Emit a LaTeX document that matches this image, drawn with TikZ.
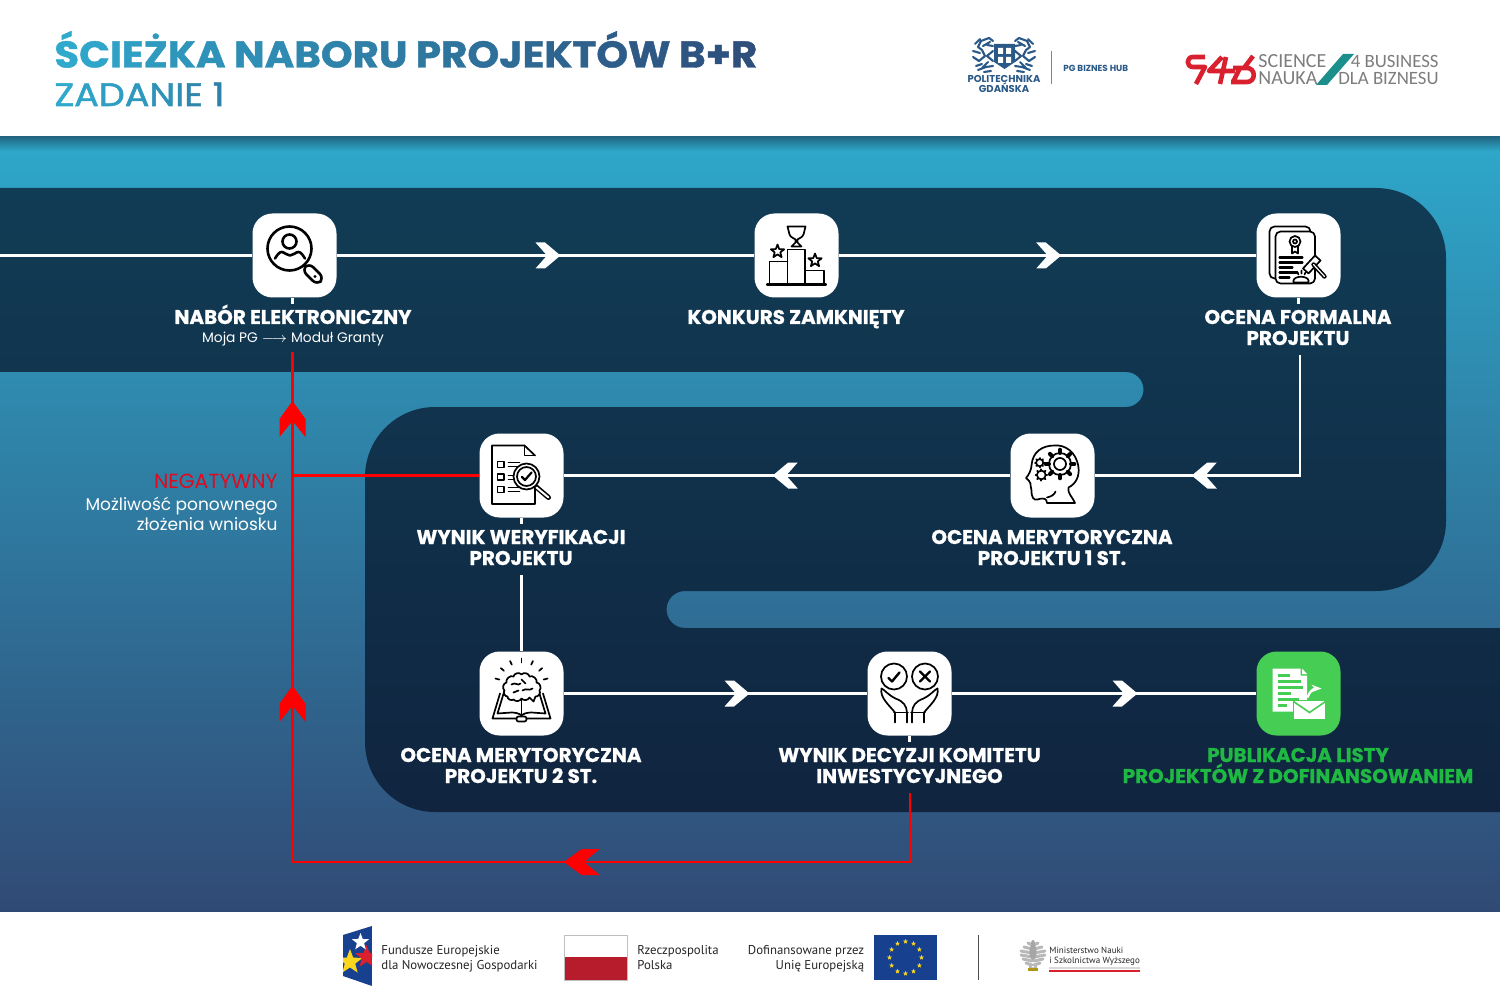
\documentclass[tikz,border=0pt]{standalone}
\usepackage{fontspec}
\usepackage{xcolor}
\setmainfont{Poppins}
\newfontfamily\titlefont[FakeStretch=1.085,BoldFeatures={FakeBold=1.2}]{Poppins}
\newfontfamily\subfont[FakeStretch=1.13,FakeBold=1.6]{Poppins}
\newfontfamily\stepfont[BoldFeatures={FakeBold=.8}]{Poppins}
\newfontfamily\footfont{PT Sans}
\newfontfamily\logofont{Carlito}
\definecolor{bandtop}{RGB}{46,168,202}
\definecolor{bandbot}{RGB}{48,74,117}
\definecolor{bandedge}{RGB}{34,104,132}
\definecolor{darktop}{RGB}{17,60,85}
\definecolor{darkbot}{RGB}{16,36,63}
\definecolor{titlestart}{RGB}{47,169,204}
\definecolor{titleend}{RGB}{46,74,120}
\definecolor{flowred}{RGB}{255,0,0}
\definecolor{negred}{RGB}{224,9,30}
\definecolor{pubgreen}{RGB}{31,184,67}
\definecolor{boxgreen}{RGB}{70,205,84}
\definecolor{pgnavy}{RGB}{42,88,135}
\definecolor{sredc}{RGB}{216,32,47}
\definecolor{steal}{RGB}{28,143,140}
\definecolor{sgray}{RGB}{125,125,125}
\definecolor{flagred}{RGB}{183,28,44}
\definecolor{eublue}{RGB}{23,64,142}
\definecolor{euyellow}{RGB}{250,215,30}
\usetikzlibrary{arrows.meta,decorations.markings}
% Title letters, each one a step further along the colour mix
\newcount\gradn
\def\gradnext#1{\ifx#1\relax\else{\color{titlestart!\the\numexpr100-\gradn*\gradstep\relax!titleend}#1}\global\advance\gradn by 1\relax\expandafter\gradnext\fi}
\newcommand{\gradword}[1]{\gradnext#1\relax}
\newcommand{\starshape}[1]{(-90:#1) -- (-54:#1*.42) -- (-18:#1) -- (18:#1*.42) -- (54:#1) -- (90:#1*.42) -- (126:#1) -- (162:#1*.42) -- (198:#1) -- (234:#1*.42) -- cycle}
\newcommand{\gearshape}[4]{%
  \begin{scope}[shift={(#1,#2)}]
    \draw[iconline] (0,0) circle[radius=#3];
    \foreach \a in {0,45,...,315} \draw[iconline,line width=#4] (\a:#3) -- (\a:#3*1.3);
  \end{scope}}
\tikzset{
  iconbox/.style={fill=white,rounded corners=10pt,minimum size=42pt,inner sep=0pt},
  iconline/.style={draw=black,line width=.85pt,line cap=round,line join=round},
  flowline/.style={draw=white,line width=1.4pt},
  redline/.style={draw=flowred,line width=1.4pt},
  flowchev/.style={postaction={decorate,decoration={markings,mark=at position #1 with {
    \fill[white] (-12.5,-13) -- (-3,-13) -- (12.5,0) -- (-3,13) -- (-12.5,13) -- (-1,0) -- cycle;}}}},
  redchev/.style={postaction={decorate,decoration={markings,mark=at position #1 with {
    \fill[flowred] (-18,-13) -- (0,-13) -- (18,0) -- (0,13) -- (-18,13) -- (-2,0) -- cycle;}}}},
  steplabel/.style={anchor=base,inner sep=0pt,align=center,text=white,font=\stepfont\fontsize{9.95}{10.5}\selectfont\bfseries},
  greenlabel/.style={steplabel,text=pubgreen},
  sidelabel/.style={anchor=base east,inner sep=0pt,align=right,font=\fontsize{8.5}{9.8}\selectfont},
  footlabel/.style={anchor=base west,inner sep=0pt,text=black!85,font=\footfont\fontsize{6.4}{7.4}\selectfont},
  slogan/.style={anchor=base west,inner sep=0pt,text=sgray,font=\logofont\fontsize{10}{10}\selectfont},
  sloganright/.style={slogan,anchor=base east,font=\logofont\fontsize{9.4}{10}\selectfont},
  pics/iconsearch/.style={code={
    \draw[iconline,line width=1.3pt] (-5,-7) circle[radius=22];
    \draw[iconline,line width=1.3pt] (-5,-14) circle[radius=7];
    \draw[iconline,line width=1.3pt] (-19.5,3) .. controls (-17,-1) and (-15,-3.5) .. (-13,-3.5) .. controls (-10,-3.5) and (-8,0) .. (-4.5,0) .. controls (-1,0) and (1,-3.5) .. (4,-3.5) .. controls (6,-3.5) and (8,-1) .. (10.5,3);
    \draw[iconline,line width=1.3pt,rounded corners=3pt] (14.5,7.5) -- (29.5,22.5) -- (22.5,29.5) -- (7.5,14.5) -- cycle;
    \fill (20.5,21) circle[radius=1.6];
  }},
  pics/iconpodium/.style={code={
    \draw[iconline,line width=1.1pt] (-29.5,29) -- (29.5,29);
    \draw[iconline] (-27,29) -- (-27,6) -- (-9,6);
    \draw[iconline] (-9,29) -- (-9,-6) -- (8.5,-6) -- (8.5,29);
    \draw[iconline] (8.5,15) -- (27.5,15) -- (27.5,29);
    \draw[iconline] (-9,-29) -- (9,-29) -- (7,-21) .. controls (6,-18) and (2,-17) .. (1,-16) -- (1,-13) -- (5,-9) -- (-5,-9) -- (-1,-13) -- (-1,-16) .. controls (-2,-17) and (-6,-18) .. (-7,-21) -- cycle;
    \draw[iconline,shift={(-19,-4)}] \starshape{7};
    \draw[iconline,shift={(18.5,5)}] \starshape{7};
  }},
  pics/iconcert/.style={code={
    \draw[iconline,rounded corners=2.5pt] (-29,-29) rectangle (12,23);
    \draw[iconline,fill=white,rounded corners=2.5pt] (-23,-24) rectangle (16.5,28);
    \draw[iconline] (-3.5,-14) circle[radius=5.5];
    \draw[iconline] (-3.5,-14) circle[radius=2];
    \draw[iconline] (-6.5,-9) -- (-6.5,-2) -- (-3.5,-4) -- (-.5,-2) -- (-.5,-9);
    \foreach \y/\e in {2/4,7/4,12/-6,17/-1,22/-9} \draw[iconline,line width=1.1pt] (-19,\y) -- (\e,\y);
    \draw[iconline,fill=white] (4.5,13) -- (16.5,0) -- (22,5) -- (10,18) -- cycle;
    \draw[iconline,fill=white,line width=2.2pt] (15,9) -- (26,21);
    \draw[draw=white,line width=.6pt,line cap=round] (15,9) -- (26,21);
    \draw[iconline,fill=white] (-5,27) -- (-5,25) .. controls (-4,20) and (9,20) .. (10,25) -- (10,27) -- cycle;
    \draw[iconline] (-1,17) -- (0,19) (3,15) -- (3,18) (7,17) -- (6,19);
  }},
  pics/icondoccheck/.style={code={
    \draw[iconline] (13.5,-20) -- (3,-30) -- (-29.5,-30) -- (-29.5,28.5) -- (13.5,28.5) -- (13.5,10);
    \draw[iconline] (3,-30) -- (3,-20) -- (13.5,-20);
    \draw[iconline] (-24,-14) rectangle (-17.5,-8);
    \draw[iconline] (-24,-1.5) rectangle (-17.5,4.5);
    \draw[iconline] (-24,11) rectangle (-17.5,17);
    \foreach \y in {-13,-9,0,4,12,16} \draw[iconline] (-13,\y) -- (-2,\y);
    \draw[iconline,line width=2.5pt] (13,10) -- (27,22);
    \draw[draw=white,line width=1pt,line cap=round] (15,12) -- (27,22);
    \draw[iconline,fill=white] (5,1) circle[radius=13];
    \draw[iconline] (5,1) circle[radius=9.5];
    \draw[iconline,line width=1.1pt] (.5,1.5) -- (3.5,4.5) -- (10,-3);
  }},
  pics/iconhead/.style={code={
    \draw[iconline] (22.5,27.5) .. controls (19,20) and (15,18) .. (16,12) .. controls (24,8) and (27,0) .. (26,-8) .. controls (24,-24) and (12,-31) .. (2,-30) .. controls (-10,-30) and (-20,-24) .. (-21,-10) .. controls (-21,-6) and (-24,0) .. (-26.5,2.5) .. controls (-25,5) and (-22,5) .. (-22,8) .. controls (-22,12) and (-21,13) .. (-21,15) .. controls (-21,22) and (-19,25) .. (-15,24) .. controls (-8,22) and (-6,23) .. (-5.5,27.5) -- cycle;
    \draw[iconline] (-5.5,22) .. controls (-1,21) and (2,19) .. (3,16);
    \gearshape{7.5}{-11.5}{11}{2pt}
    \draw[iconline] (7.5,-11.5) circle[radius=6];
    \gearshape{-12.8}{-12.8}{3.6}{1pt}
    \gearshape{-11.2}{-.5}{4.4}{1pt}
  }},
  pics/iconbrain/.style={code={
    \foreach \a in {-165,-140,-115,-90,-65,-40,-15} \draw[iconline] (0,-8) ++(\a:23) -- ++(\a:4);
    \draw[iconline] (-21.5,0) -- (-29,25) -- (-5,25) (21.5,0) -- (29,25) -- (5,25);
    \draw[iconline] (-17,-3) -- (-24,20) -- (-10,19) .. controls (-6,19) and (-2,20) .. (0,22) .. controls (2,20) and (6,19) .. (10,19) -- (24,20) -- (17,-3);
    \draw[iconline] (0,4) -- (0,22);
    \draw[iconline,rounded corners=1pt] (-5,23) rectangle (5,28);
    \draw[iconline,fill=white] (-17,-3) to[bend left=70] (-15,-11) to[bend left=70] (-8,-17) to[bend left=70] (0,-19) to[bend left=70] (8,-17) to[bend left=70] (15,-11) to[bend left=70] (18,-3) to[bend left=70] (14,3) -- (12,8) -- (8,4) to[bend left=60] (0,5) to[bend left=60] (-8,6) to[bend left=70] (-14,3) to[bend left=70] cycle;
    \draw[iconline] (-10,-9) .. controls (-6,-12) and (-4,-7) .. (-1,-10) (1,-3) .. controls (5,-6) and (7,-2) .. (11,-5) (-8,-1) -- (-3,-3) (0,-14) -- (4,-10);
  }},
  pics/iconhands/.style={code={
    \draw[iconline] (-15.5,-17) circle[radius=13];
    \draw[iconline] (15.5,-17) circle[radius=13];
    \draw[iconline,line width=1.2pt] (-21,-15.5) -- (-17.5,-12) -- (-10,-21);
    \draw[iconline,line width=1.2pt] (10.5,-22) -- (20.5,-12) (20.5,-22) -- (10.5,-12);
    \foreach \s in {1,-1} {
      \begin{scope}[xscale=\s]
        \draw[iconline] (-28,-5) .. controls (-30,4) and (-20,12) .. (-14.5,19) -- (-14.5,29);
        \draw[iconline] (-28,-5) .. controls (-24,-3) and (-22,1) .. (-14,5) .. controls (-6,8) and (-3,12) .. (-2.5,19) -- (-2.5,29);
        \draw[iconline] (-15.5,19) -- (-1.5,19);
      \end{scope}}
  }},
  pics/iconpublish/.style={code={
    \fill[white] (-26,-25) -- (2,-25) -- (2,-18) -- (8.5,-18) -- (8.5,18) -- (-26,18) -- cycle;
    \fill[white] (3.5,-25) -- (8.5,-19.5) -- (3.5,-19.5) -- cycle;
    \foreach \y/\a/\b in {-18/-21/-9,-12/-21/2,-6/-21/4,0/-21/-8,6/-21/0,12/-21/-12} \draw[boxgreen,line width=1.1pt] (\a,\y) -- (\b,\y);
    \draw[white,line width=1.1pt,-{Stealth[length=5pt]}] (9,4) .. controls (11,-2) and (15,-5) .. (23,-5);
    \draw[boxgreen,fill=white,line width=.8pt] (-5,7) rectangle (27,26);
    \draw[boxgreen,line width=.8pt] (-5,8) -- (11,19) -- (27,8);
  }},
  pics/iconfund/.style={code={
    \clip (343,935) -- (372,926) -- (372,986) -- (343,976) -- cycle;
    \fill[eublue] (343,925) rectangle (372,986);
    \fill[euyellow,shift={(350,962)}] \starshape{13};
    \fill[sredc,shift={(366.5,957)}] \starshape{12};
    \fill[white,shift={(360.5,942)}] \starshape{9};
  }},
  pics/griffin/.style={code={
    \draw[pgnavy,line width=1.05pt,line cap=round,line join=round]
      (-11,-18) -- (-15,-21) -- (-23,-18) -- (-26,-12) -- (-22,-9) -- (-19,-3) -- (-25,2) -- (-31,-2)
      (-31,-8) -- (-24,-6) (-11,-13) -- (-17,-14) (-11,-8) -- (-17,-3) -- (-11,2)
      (-11,7) -- (-18,8) -- (-26,11) (-22,5) -- (-28,7) (-29,-15) -- (-24,-20)
      (-14,-17) -- (-21,-13) (-13,12) -- (-20,13) (-16,3) -- (-22,9);
  }},
  pics/eaglewing/.style={code={
    \foreach \y/\w in {-12/5,-8/9,-4/12,0/12,4/10,8/7,12/3} \draw[black!28,line width=1.5pt,line cap=round] (1,\y) -- (\w,\y-2);
  }}
}
\begin{document}
\begin{tikzpicture}[x=0.5pt,y=-0.5pt]
  \useasboundingbox (0,0) rectangle (1500,1000);
  % Page background
  \fill[white] (0,0) rectangle (1500,1000);
  \shade[top color=bandtop,bottom color=bandbot] (0,137) rectangle (1500,911);
  \shade[top color=bandedge,bottom color=bandtop] (0,137) rectangle (1500,151);
  % Dark road through the steps
  \shade[top color=darktop,bottom color=darkbot]
    (0,188) -- (1376,188) arc[start angle=-90,end angle=0,radius=70]
    -- (1446,521) arc[start angle=0,end angle=90,radius=70]
    -- (685,591) arc[start angle=-90,end angle=-270,radius=18.5]
    -- (1500,628) -- (1500,812) -- (435,812) arc[start angle=90,end angle=180,radius=70]
    -- (365,477) arc[start angle=180,end angle=270,radius=70]
    -- (1126,407) arc[start angle=90,end angle=-90,radius=17.5]
    -- (0,372) -- cycle;
  % Header
  \node[anchor=base west,inner sep=0pt,font=\titlefont\fontsize{18.6}{19}\selectfont\bfseries] (title) at (54,67.5)
    {\def\gradstep{4}\gradn=0 \gradword{ŚCIEŻKA} \gradword{NABORU} \gradword{PROJEKTÓW} \gradword{B+R}};
  \node[anchor=base west,inner sep=0pt,font=\subfont\fontsize{16.2}{17}\selectfont] (subtitle) at (54,106)
    {\def\gradstep{6}\gradn=0 \gradword{ZADANIE} \gradword{1}};
  % PG logo
  \pic at (1004,59) {griffin};
  \pic[xscale=-1] at (1004,59) {griffin};
  \fill[pgnavy] (994,44) -- (1015,44) -- (1015,62) -- (1004.5,69) -- (994,62) -- cycle;
  \fill[white] (998,48) rectangle (1003,54) (1006,48) rectangle (1011,54) (998,57) rectangle (1003,63) (1006,57) rectangle (1011,63);
  \node[inner sep=0pt,align=center,text=pgnavy,font=\fontsize{5}{5.1}\selectfont\bfseries] (pgname) at (1004,84) {POLITECHNIKA\\GDAŃSKA};
  \draw[pgnavy!70,line width=.6pt] (1051.5,51) -- (1051.5,84);
  \node[anchor=west,inner sep=0pt,text=pgnavy,font=\fontsize{4.4}{5}\selectfont\bfseries] (pghub) at (1063,68) {PG BIZNES HUB};
  % S4B logo
  \draw[sredc,line width=2.3pt,line join=round]
    (1205,57) -- (1193,57) .. controls (1186,57) and (1186,67) .. (1193,67) -- (1205,67) -- (1196,84);
  \draw[sredc,line width=2.3pt,line join=round] (1222,57) -- (1209,71) -- (1235,71) (1226,57) -- (1220,84);
  \draw[sredc,line width=2.3pt,line join=round]
    (1253,56) -- (1244,68) (1233,68) -- (1247,68) .. controls (1256,68) and (1256,82) .. (1247,82) -- (1231,82) (1240,68) -- (1233,82);
  \fill[steal] (1343,54) -- (1354,54) -- (1327,85) -- (1316,85) -- cycle;
  \node[slogan] (sci) at (1258,68) {SCIENCE};
  \node[slogan] (nau) at (1258,85) {NAUKA};
  \node[sloganright] (bus) at (1439,68) {4 BUSINESS};
  \node[sloganright] (dla) at (1439,85) {DLA BIZNESU};
  % Steps
  \node[iconbox] (nabor) at (294.5,255.5) {};
  \node[iconbox] (konkurs) at (796.5,255.5) {};
  \node[iconbox] (formal) at (1298.5,255.5) {};
  \node[iconbox] (merytA) at (1052.5,475.5) {};
  \node[iconbox] (weryf) at (521.5,475.5) {};
  \node[iconbox] (merytB) at (521.5,693.5) {};
  \node[iconbox] (decyzja) at (909.5,693.5) {};
  \node[iconbox,fill=boxgreen] (publik) at (1298.5,693.5) {};
  \pic at (nabor) {iconsearch};
  \pic at (konkurs) {iconpodium};
  \pic at (formal) {iconcert};
  \pic at (merytA) {iconhead};
  \pic at (weryf) {icondoccheck};
  \pic at (merytB) {iconbrain};
  \pic at (decyzja) {iconhands};
  \pic at (publik) {iconpublish};
  % Labels
  \node[steplabel] (labNabor) at (293,324) {NABÓR ELEKTRONICZNY};
  \node[steplabel,font=\fontsize{6.9}{8}\selectfont] (labModul) at (293,343) {Moja PG $\longrightarrow$ Moduł Granty};
  \node[steplabel] (labKonkurs) at (796,324) {KONKURS ZAMKNIĘTY};
  \node[steplabel] (labFormal) at (1298,345) {OCENA FORMALNA\\PROJEKTU};
  \node[steplabel] (labMerytA) at (1052,565) {OCENA MERYTORYCZNA\\PROJEKTU 1 ST.};
  \node[steplabel] (labWeryf) at (521,565) {WYNIK WERYFIKACJI\\PROJEKTU};
  \node[steplabel] (labMerytB) at (521,783) {OCENA MERYTORYCZNA\\PROJEKTU 2 ST.};
  \node[steplabel] (labDecyzja) at (909.5,783) {WYNIK DECYZJI KOMITETU\\INWESTYCYJNEGO};
  \node[greenlabel] (labPublik) at (1298,783) {PUBLIKACJA LISTY\\PROJEKTÓW Z DOFINANSOWANIEM};
  \node[sidelabel,text=negred,font=\fontsize{10.2}{10.2}\selectfont] (labNeg) at (278,488) {NEGATYWNY};
  \node[sidelabel,text=white] (labRetry) at (278,530) {Możliwość ponownego\\złożenia wniosku};
  % Free ends of the connectors
  \coordinate (flowStart) at (0,255.5);
  \coordinate (formalEnd) at (1300,355);
  \coordinate (weryfEnd) at (521.5,575);
  \coordinate (decEnd) at (910,793);
  \coordinate (redCorner) at (292.5,862);
  \coordinate (negTop) at (292.5,352);
  % Connectors
  \draw[flowline] (flowStart) -- (nabor.west);
  \draw[flowline,flowchev=.506] (nabor.east) -- (konkurs.west);
  \draw[flowline,flowchev=.503] (konkurs.east) -- (formal.west);
  \draw[flowline,flowchev=.664] (formalEnd) |- (merytA.east);
  \draw[flowline,flowchev=.504] (merytA.west) -- (weryf.east);
  \draw[flowline] (weryfEnd) -- (merytB.north);
  \draw[flowline,flowchev=.571] (merytB.east) -- (decyzja.west);
  \draw[flowline,flowchev=.569] (decyzja.east) -- (publik.west);
  % Stubs under the boxes
  \draw[flowline] (nabor.south -| negTop) -- ++(0,6);
  \draw[flowline] (formal.south) -- ++(0,6);
  \draw[flowline] (weryf.south) -- ++(0,6);
  \draw[flowline] (decyzja.south) -- ++(0,6);
  % Negative paths
  \draw[redline,redchev=.332,redchev=.706,redchev=.944] (decEnd) |- (redCorner) -- (negTop);
  \draw[redline] (weryf.west) -- (weryf.west -| negTop);
  % Footer
  \pic at (0,0) {iconfund};
  \node[footlabel,align=left] (fundA) at (381,969) {Fundusze Europejskie\\dla Nowoczesnej Gospodarki};
  \fill[white] (564,935) rectangle (627,957);
  \fill[flagred] (564,957) rectangle (627,980);
  \draw[black!25,line width=.4pt] (564,935) rectangle (627,980);
  \node[footlabel,align=left] (rp) at (637,969) {Rzeczpospolita\\Polska};
  \node[footlabel,anchor=base east,align=right] (dof) at (864.5,969) {Dofinansowane przez\\Unię Europejską};
  \fill[eublue] (874,935) rectangle (937,980);
  \foreach \a in {0,30,...,330} \fill[euyellow,shift={(905.5,957.5)},shift={(\a:16)}] \starshape{2.6};
  \draw[black!70,line width=.6pt] (978.5,935) -- (978.5,980);
  % Ministry eagle
  \pic at (1033,957) {eaglewing};
  \pic[xscale=-1] at (1033,957) {eaglewing};
  \fill[black!35] (1033,943) ellipse[x radius=2,y radius=3] (1033,952) ellipse[x radius=3.5,y radius=8];
  \fill[euyellow!70!black] (1028,968) rectangle (1038,971);
  \node[footlabel,align=left,font=\footfont\fontsize{4.5}{5}\selectfont] (mini) at (1049,963.5) {Ministerstwo Nauki\\i Szkolnictwa Wyższego};
  \draw[black!15,line width=.6pt] (1049,968) -- (1140,968);
  \draw[sredc,line width=.8pt] (1049,971) -- (1140,971);
\end{tikzpicture}
\end{document}
